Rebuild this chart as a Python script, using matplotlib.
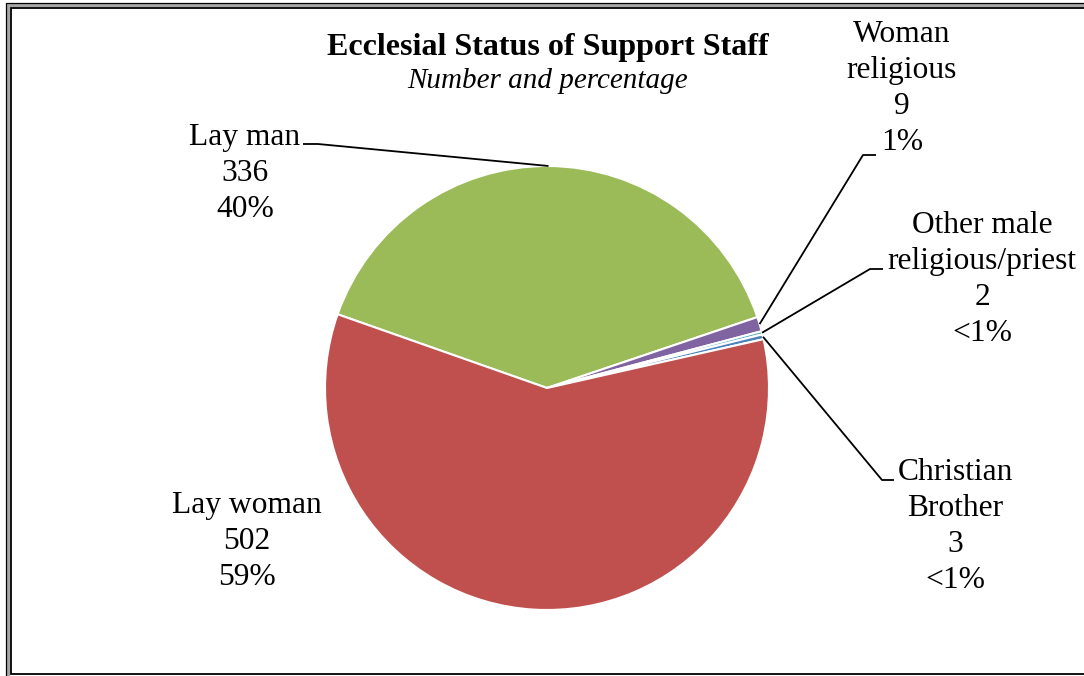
import matplotlib.pyplot as plt
import numpy as np

W, H = 1084, 676

# Data
categories = ["Lay man", "Woman\nreligious", "Other male\nreligious/priest",
              "Christian\nBrother", "Lay woman"]
counts = [336, 9, 2, 3, 502]
pct_labels = ["40%", "1%", "<1%", "<1%", "59%"]
colors = ["#9BBB59", "#8064A2", "#4BACC6", "#4F81BD", "#C0504D"]

# Label layout (x centre, first baseline, measured from top in pixels)
label_pos = [(245, 145), (902, 42), (982, 233), (955, 480), (247, 513)]
# leader: (outer end x, elbow x, y) or None
leaders = [(303, 318, 144), (876, 863, 155), (883, 870, 269), (894, 882, 480), None]
line_gap = 36

plt.rcParams['font.family'] = ['Liberation Serif', 'DejaVu Serif']

fig = plt.figure(figsize=(W / 100, H / 100), dpi=100)
ax = fig.add_axes([0, 0, 1, 1])

cx, cy, r = 547, H - 388, 222
wedges, _ = ax.pie(counts, colors=colors, startangle=160.6, counterclock=False,
                   center=(cx, cy), radius=r,
                   wedgeprops=dict(edgecolor='white', linewidth=1.5))
ax.set_xlim(0, W)
ax.set_ylim(0, H)
ax.set_aspect('auto')
ax.axis('off')

# Labels and leader lines
for i, w in enumerate(wedges):
    x, y0 = label_pos[i]
    lines = categories[i].split("\n") + [str(counts[i]), pct_labels[i]]
    for k, txt in enumerate(lines):
        ax.text(x, H - (y0 + k * line_gap), txt, ha='center', va='baseline',
                fontsize=22.7, color='black')
    if leaders[i] is not None:
        x_end, x_elb, ly = leaders[i]
        th = np.deg2rad((w.theta1 + w.theta2) / 2)
        px, py = cx + r * np.cos(th), cy + r * np.sin(th)
        ax.plot([x_end, x_elb, px], [H - ly, H - ly, py], color='black',
                lw=1.3, solid_capstyle='butt', clip_on=False)

# Title
ax.text(548, H - 55, "Ecclesial Status of Support Staff", ha='center',
        va='baseline', fontsize=23, fontweight='bold')
ax.text(548, H - 88, "Number and percentage", ha='center', va='baseline',
        fontsize=21, fontstyle='italic')

# Chart frame (double border), open towards the right and bottom edges
ax.plot([8, 8, W], [0, H - 5, H - 5], color='#a6a6a6', lw=2.5,
        solid_joinstyle='miter', clip_on=False)
ax.plot([6.3, 6.3, W], [0, H - 3, H - 3], color='black', lw=0.9,
        solid_joinstyle='miter', clip_on=False)
ax.plot([W, 10.5, 10.5, W], [H - 674, H - 674, H - 8, H - 8], color='black',
        lw=1.3, solid_joinstyle='miter', clip_on=False)

fig.savefig("out.png", dpi=100)
